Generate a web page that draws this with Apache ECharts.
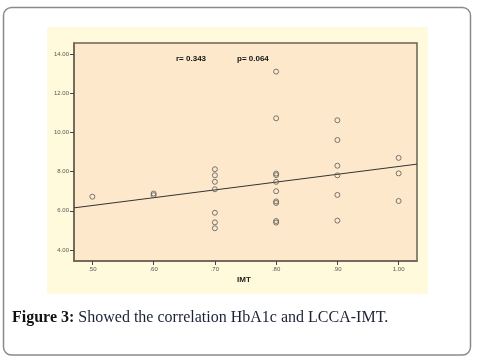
<!DOCTYPE html>
<html><head><meta charset="utf-8">
<script src="https://cdn.jsdelivr.net/npm/echarts@6/dist/echarts.min.js"></script>
<style>html,body{margin:0;padding:0;background:#fff;}#c{width:480px;height:360px;}</style>
</head><body><div id="c"></div>
<script>
// Data
var imt   = [0.5, 0.6, 0.6, 0.7, 0.7, 0.7, 0.7, 0.7, 0.7, 0.7, 0.8, 0.8, 0.8, 0.8, 0.8, 0.8, 0.8, 0.8, 0.8, 0.8, 0.9, 0.9, 0.9, 0.9, 0.9, 0.9, 1.0, 1.0, 1.0];
var hba1c = [6.72, 6.80, 6.88, 8.12, 7.81, 7.48, 7.10, 5.90, 5.41, 5.11, 13.10, 10.72, 7.90, 7.82, 7.48, 7.00, 6.48, 6.40, 5.48, 5.40, 10.62, 9.61, 8.30, 7.81, 6.81, 5.50, 8.70, 7.91, 6.50];
var fitX = [0.47, 1.03];
var fitY = [6.15, 8.38];
var xTicks = [0.5, 0.6, 0.7, 0.8, 0.9, 1.0];
var xTickLabels = ['.50', '.60', '.70', '.80', '.90', '1.00'];
var yTicks = [4, 6, 8, 10, 12, 14];
var yTickLabels = ['4.00', '6.00', '8.00', '10.00', '12.00', '14.00'];
var statR = 'r= 0.343';
var statP = 'p= 0.064';
var xTitle = 'IMT';
var caption = 'Showed the correlation HbA1c and LCCA-IMT.';
var captionLabel = 'Figure 3:';

var pts = imt.map(function (x, i) { return [x, hba1c[i]]; });
var fit = fitX.map(function (x, i) { return [x, fitY[i]]; });
function lab(ticks, labels) {
  return function (v) {
    for (var i = 0; i < ticks.length; i++) if (Math.abs(ticks[i] - v) < 1e-6) return labels[i];
    return '';
  };
}
var chart = echarts.init(document.getElementById('c'), null, {renderer: 'canvas'});
var axisCol = '#6b6354';
chart.setOption({
  animation: false,
  backgroundColor: '#fff',
  graphic: [
    {type: 'rect', z: -20, shape: {x: 3.5, y: 7.5, width: 467, height: 347.5, r: 8}, style: {fill: '#fff', stroke: '#8a8a8a', lineWidth: 1.5}},
    {type: 'rect', z: -19, shape: {x: 47, y: 27, width: 381, height: 267}, style: {fill: '#FFFADB'}},
    {type: 'text', z: 10, left: 176, top: 55, style: {text: statR, font: 'bold 8px "Liberation Sans", Arial, sans-serif', fill: '#111'}},
    {type: 'text', z: 10, left: 237, top: 55, style: {text: statP, font: 'bold 8px "Liberation Sans", Arial, sans-serif', fill: '#111'}},
    {type: 'text', z: 10, left: 237, top: 276, style: {text: xTitle, font: 'bold 8px "Liberation Sans", Arial, sans-serif', fill: '#222'}},
    {type: 'text', z: 10, left: 12, top: 310, style: {
      text: '{b|' + captionLabel + '} ' + caption,
      font: '16px "Liberation Serif", "DejaVu Serif", serif', fill: '#1d2236',
      rich: {b: {font: 'bold 16px "Liberation Serif", serif', fill: '#111'}}
    }}
  ],
  grid: {left: 74, top: 43, width: 343, height: 218, show: true, backgroundColor: '#FDE8CB', borderColor: axisCol, borderWidth: 1.5},
  xAxis: {
    type: 'value', min: 0.47, max: 1.03,
    splitLine: {show: false},
    axisLine: {show: true, onZero: false, lineStyle: {color: axisCol, width: 1.5}},
    axisTick: {show: true, length: 4, lineStyle: {color: '#444'}, customValues: xTicks},
    axisLabel: {customValues: xTicks, formatter: lab(xTicks, xTickLabels), fontSize: 6, color: '#555', margin: 5, fontFamily: '"Liberation Sans", Arial, sans-serif'}
  },
  yAxis: {
    type: 'value', min: 3.44, max: 14.56,
    splitLine: {show: false},
    axisLine: {show: true, onZero: false, lineStyle: {color: axisCol, width: 1.5}},
    axisTick: {show: true, length: 4, lineStyle: {color: '#444'}, customValues: yTicks},
    axisLabel: {customValues: yTicks, formatter: lab(yTicks, yTickLabels), fontSize: 6, color: '#555', margin: 5, fontFamily: '"Liberation Sans", Arial, sans-serif'}
  },
  series: [
    {type: 'line', data: fit, symbol: 'none', lineStyle: {color: '#333', width: 1}, z: 3, silent: true},
    {type: 'scatter', data: pts, symbol: 'circle', symbolSize: 5, z: 4,
     itemStyle: {color: 'rgba(0,0,0,0)', borderColor: '#5a5a5a', borderWidth: 1}}
  ]
});
</script></body></html>
